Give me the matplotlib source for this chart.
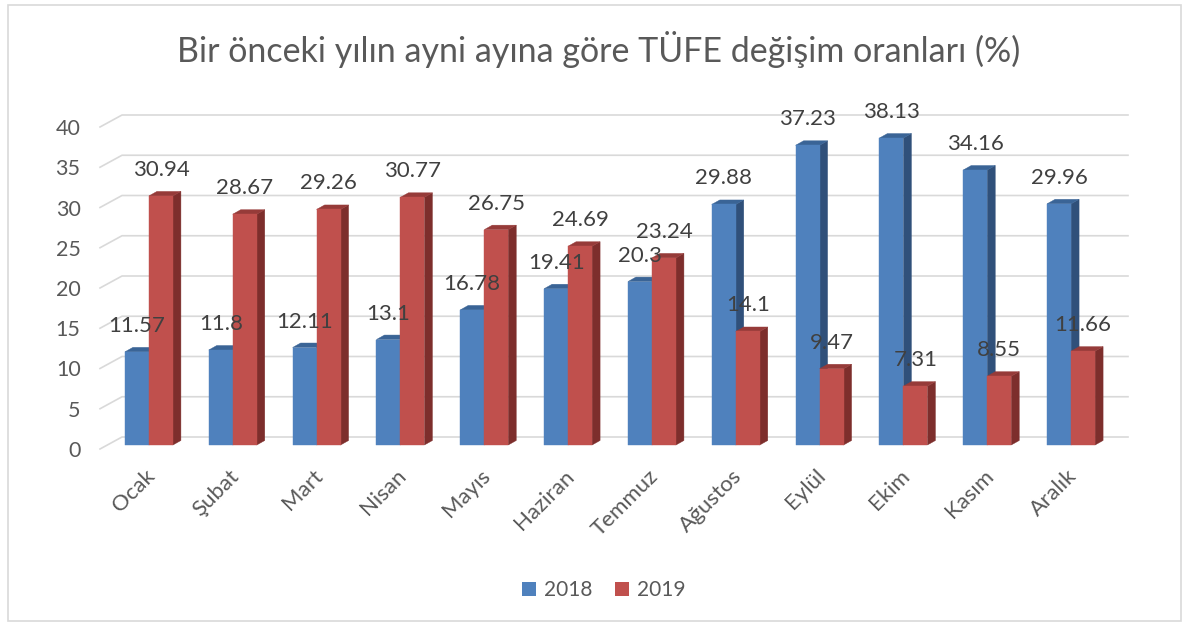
import matplotlib
matplotlib.use("Agg")
import matplotlib.pyplot as plt
from matplotlib.patches import Polygon, Rectangle, Patch
import numpy as np

plt.rcParams['font.family'] = ['Lato', 'DejaVu Sans']

months = ["Ocak", "Şubat", "Mart", "Nisan", "Mayıs", "Haziran", "Temmuz",
          "Ağustos", "Eylül", "Ekim", "Kasım", "Aralık"]
v2018 = [11.57, 11.8, 12.11, 13.1, 16.78, 19.41, 20.3, 29.88, 37.23, 38.13, 34.16, 29.96]
v2019 = [30.94, 28.67, 29.26, 30.77, 26.75, 24.69, 23.24, 14.1, 9.47, 7.31, 8.55, 11.66]
labels2018 = ["11.57", "11.8", "12.11", "13.1", "16.78", "19.41", "20.3", "29.88", "37.23", "38.13", "34.16", "29.96"]
labels2019 = ["30.94", "28.67", "29.26", "30.77", "26.75", "24.69", "23.24", "14.1", "9.47", "7.31", "8.55", "11.66"]
yticks = [0, 5, 10, 15, 20, 25, 30, 35, 40]
series_names = ["2018", "2019"]

W, H = 1189, 626
fig = plt.figure(figsize=(W / 100, H / 100), dpi=100)
fig.patch.set_facecolor("white")

ax = fig.add_axes([100 / W, (H - 449) / H, 1006 / W, 322 / H])
ax.set_xlim(-0.5, len(months) - 0.5)
ax.set_ylim(0, 40)
ax.set_facecolor("none")
for s in ax.spines.values():
    s.set_visible(False)
ax.set_xticks([])
ax.set_yticks(yticks)
ax.set_yticklabels([str(t) for t in yticks], fontsize=15.5, color="#595959")
ax.tick_params(axis="y", length=0, pad=14)

def P(x, v, px=0.0, py=0.0):
    d = ax.transData.transform((x, v))
    return ax.transData.inverted().transform((d[0] + px, d[1] + py))

grid_c = "#d9d9d9"
DX, DY = 22, 12
for t in yticks:
    pts = np.array([P(-0.5, t), P(-0.5, t, DX, DY), P(len(months) - 0.5, t, DX, DY)])
    ax.plot(pts[:, 0], pts[:, 1], color=grid_c, lw=1.2, zorder=1, clip_on=False)

bw = 24 / (1006 / 12)
ox, oy = 7, 4      # front face offset of bars (px)
bdx, bdy = 8, 4.5  # bar depth (px)

colors = {
    "2018": ("#4f81bd", "#30507a", "#3a6496"),
    "2019": ("#c0504d", "#7d2e2c", "#963b39"),
}

def draw_bar(xl, v, cols, z):
    xr = xl + bw
    front, side, top = cols
    fp = [P(xl, 0, ox, oy), P(xr, 0, ox, oy), P(xr, v, ox, oy), P(xl, v, ox, oy)]
    sp = [P(xr, 0, ox, oy), P(xr, 0, ox + bdx, oy + bdy), P(xr, v, ox + bdx, oy + bdy), P(xr, v, ox, oy)]
    tp = [P(xl, v, ox, oy), P(xr, v, ox, oy), P(xr, v, ox + bdx, oy + bdy), P(xl, v, ox + bdx, oy + bdy)]
    for pts, c in ((sp, side), (tp, top), (fp, front)):
        ax.add_patch(Polygon(pts, closed=True, facecolor=c, edgecolor=c, lw=0.3,
                             zorder=z, clip_on=False))

for i in range(len(months)):
    draw_bar(i - bw, v2018[i], colors["2018"], 3)
    draw_bar(i, v2019[i], colors["2019"], 4)

for i in range(len(months)):
    ax.annotate(labels2018[i], xy=(i - bw / 2, v2018[i]), xytext=(ox * 0.72, (oy + 26) * 0.72),
                textcoords="offset points", ha="center", va="center", fontsize=16,
                color="#404040", zorder=6, annotation_clip=False)
    ax.annotate(labels2019[i], xy=(i + bw / 2, v2019[i]), xytext=(ox * 0.72, (oy + 26) * 0.72),
                textcoords="offset points", ha="center", va="center", fontsize=16,
                color="#404040", zorder=6, annotation_clip=False)

for i, m in enumerate(months):
    ax.annotate(m, xy=(i, 0), xytext=(10 * 0.72, -24 * 0.72), textcoords="offset points",
                ha="right", va="center", rotation=45, rotation_mode="anchor",
                fontsize=16, color="#595959", annotation_clip=False)

fig.text(599 / W, 1 - 50 / H, "Bir önceki yılın ayni ayına göre TÜFE değişim oranları (%)",
         ha="center", va="center", fontsize=24.5, color="#595959")

handles = [Patch(facecolor=colors[s][0], edgecolor="none") for s in series_names]
fig.legend(handles, series_names, loc="center", bbox_to_anchor=(604 / W, 1 - 590 / H), ncol=2,
           frameon=False, fontsize=15, handlelength=0.65, handleheight=0.65, handletextpad=0.4,
           columnspacing=1.1, labelcolor="#595959")

fig.patches.append(Rectangle((8 / W, 5 / H), (1181 - 8) / W, (621 - 5) / H, transform=fig.transFigure,
                             fill=False, edgecolor="#d9d9d9", lw=1.2))

fig.savefig("out.png", dpi=100)
